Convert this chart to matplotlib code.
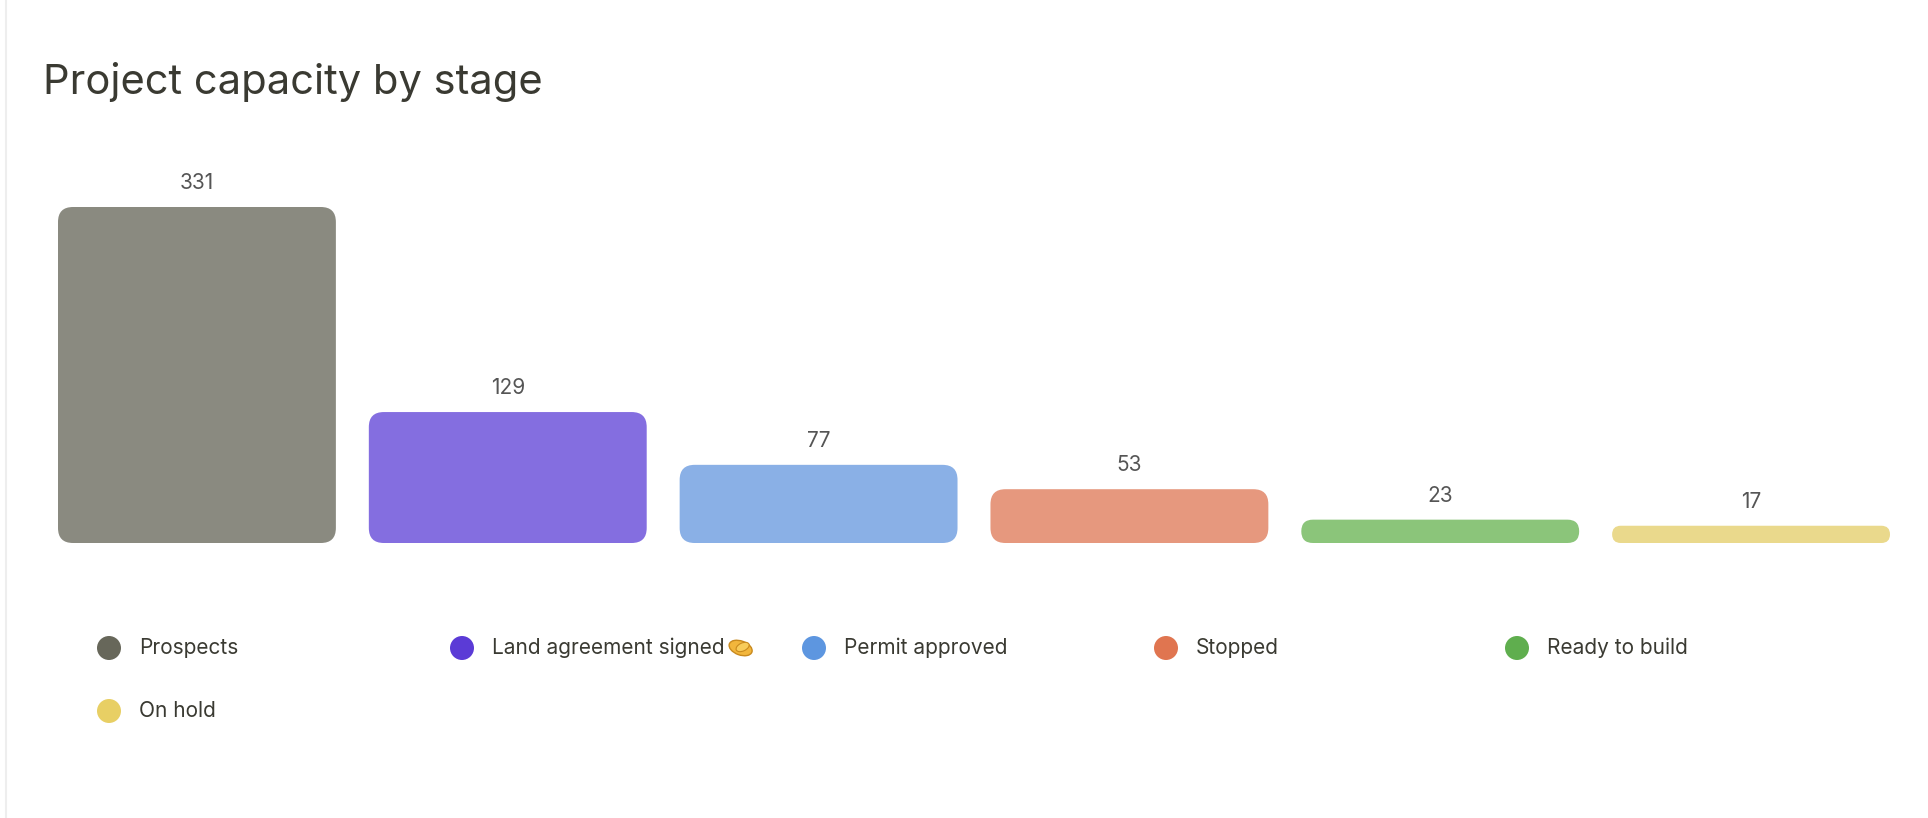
import matplotlib
matplotlib.use("Agg")
import matplotlib.pyplot as plt
from matplotlib.patches import FancyBboxPatch, Circle, Ellipse

categories = ["Prospects", "Land agreement signed", "Permit approved", "Stopped", "Ready to build", "On hold"]
values = [331, 129, 77, 53, 23, 17]
bar_colors = ["#8a8a80", "#846ee0", "#8ab0e6", "#e6987e", "#8bc57a", "#ead98c"]
marker_colors = ["#67675a", "#5b3bd6", "#5d96e0", "#e07550", "#5fae4e", "#e8cf64"]
emoji_after = "Land agreement signed"  # 🤝 drawn as a shape (no installed glyph)

plt.rcParams['font.family'] = ['Inter', 'DejaVu Sans', 'Noto Sans']
W, H = 1928, 818
fig = plt.figure(figsize=(W/100, H/100), dpi=100)
fig.patch.set_facecolor("white")

ax_left, ax_right, base_y, top_y = 58, 1890, 543, 207
ax = fig.add_axes([ax_left/W, (H-base_y)/H, (ax_right-ax_left)/W, (base_y-top_y)/H])
ax.set_xlim(-0.447, 5.447)
ax.set_ylim(0, max(values))
ax.axis("off")

px_x = 5.894/(ax_right-ax_left)
px_y = max(values)/(base_y-top_y)
bw = 0.894
for i, (v, c) in enumerate(zip(values, bar_colors)):
    h_px = v/px_y
    r_px = min(15, h_px/2)
    p = FancyBboxPatch((i-bw/2, 0), bw, v,
                       boxstyle=f"round,pad=0,rounding_size={r_px*px_x}",
                       mutation_aspect=px_y/px_x, fc=c, ec="none", clip_on=False)
    ax.add_patch(p)
    ax.text(i, v + 24*px_y, str(v), ha="center", va="center", fontsize=15, color="#555555")

fig.text(43/W, 1-82/H, "Project capacity by stage", fontsize=30, color="#3a3a32", va="center", ha="left")

cols_x = [109, 462, 814, 1166, 1517]
rows_y = [648, 711]
fig.canvas.draw()
renderer = fig.canvas.get_renderer()
for k, (lab, mc) in enumerate(zip(categories, marker_colors)):
    r, cidx = divmod(k, 5)
    x, y = cols_x[cidx], rows_y[r]
    c = Circle((x, H-y), 12, transform=None, fc=mc, ec="none")
    fig.patches.append(c)
    t = fig.text((x+30)/W, 1-y/H, lab, fontsize=15, color="#3a3a32", va="center", ha="left")
    if lab == emoji_after:
        bb = t.get_window_extent(renderer)
        ex = bb.x1 + 16
        ey = H - y
        fig.patches.append(Ellipse((ex, ey), 24, 14, angle=-20, transform=None, fc="#f2b63c", ec="#c98a1e", lw=1))
        fig.patches.append(Ellipse((ex+2, ey+1), 14, 8, angle=25, transform=None, fc="#f8cc5a", ec="#c98a1e", lw=0.8))

fig.add_artist(plt.Line2D([6/W, 6/W], [0, 1], transform=fig.transFigure, color="#eeeeee", lw=1.5))
fig.savefig("out.png", dpi=100)
